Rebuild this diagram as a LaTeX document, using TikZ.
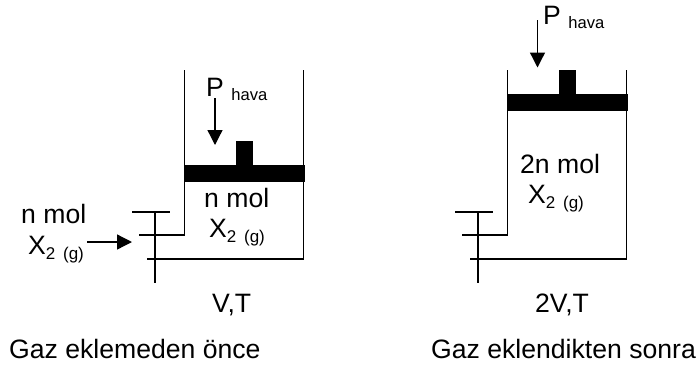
\documentclass[tikz,border=0pt]{standalone}
\usepackage{fontspec}
\setmainfont{Liberation Sans}
\usetikzlibrary{arrows.meta}
\tikzset{
 x=1pt,y=-1pt,
 wall/.style={draw=black,line width=1.3pt,line cap=butt},
 solid part/.style={fill=black,draw=none},
 pushline/.style={draw=black,line width=1.3pt,-{Triangle[length=15pt,width=15pt]}},
 lbl/.style={inner sep=0pt,anchor=base west,font=\fontsize{26.6}{28}\selectfont},
}
\newcommand{\chem}{X\raisebox{-5pt}{\fontsize{17}{18}\selectfont 2 \kern3pt(g)}}
\newcommand{\press}{P \raisebox{-4pt}{\fontsize{16.6}{18}\selectfont hava}}
\begin{document}
\begin{tikzpicture}
\useasboundingbox (0,0) rectangle (698,370);
% left cylinder
\draw[wall] (184.5,70) -- (184.5,235) -- (139,235);
\draw[wall] (303.5,70) -- (303.5,259) -- (147,259);
\draw[wall] (155,212) -- (155,283);
\draw[wall] (132,212) -- (170,212);
\fill[solid part] (184,164.5) rectangle (304.5,182);
\fill[solid part] (236,140.5) rectangle (252.5,165);
\coordinate (a1) at (215,98); \coordinate (a2) at (215,145);
\draw[pushline] (a1) -- (a2);
\coordinate (b1) at (87,242); \coordinate (b2) at (132,242);
\draw[pushline] (b1) -- (b2);
\node[lbl] (pl) at (206,96) {\press};
\node[lbl] (nl) at (204,207) {n mol};
\node[lbl] (xl) at (209,237) {\chem};
\node[lbl] (ng) at (21,223) {n mol};
\node[lbl] (xg) at (28,254) {\chem};
\node[lbl] (vt) at (212,312) {V,T};
\node[lbl] (cl) at (9,358) {Gaz eklemeden önce};
% right cylinder
\draw[wall] (507.5,70) -- (507.5,235) -- (462,235);
\draw[wall] (626.5,70) -- (626.5,259) -- (470,259);
\draw[wall] (478,212) -- (478,283);
\draw[wall] (455,212) -- (493,212);
\fill[solid part] (507,93.5) rectangle (627.5,111);
\fill[solid part] (559,70) rectangle (575.5,94);
\coordinate (c1) at (537.5,20); \coordinate (c2) at (537.5,67.5);
\draw[pushline] (c1) -- (c2);
\node[lbl] (pr) at (543,24) {\press};
\node[lbl] (nr) at (520,173) {2n mol};
\node[lbl] (xr) at (528,203) {\chem};
\node[lbl] (vr) at (535,312) {2V,T};
\node[lbl] (cr) at (431,358) {Gaz eklendikten sonra};
\end{tikzpicture}
\end{document}
